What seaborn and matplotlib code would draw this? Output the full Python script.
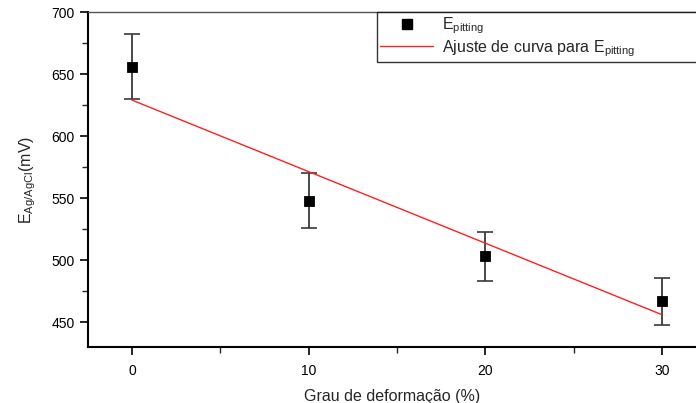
import matplotlib
matplotlib.use("Agg")
import matplotlib.pyplot as plt
import seaborn as sns
import pandas as pd
from matplotlib.ticker import MultipleLocator
from matplotlib.lines import Line2D

# Data
deformacao = [0, 10, 20, 30]
e_pitting = [656, 548, 503, 467]
e_err = [26, 22, 20, 19]
fit_x = [0, 30]
fit_y = [629, 456]

sns.set_theme(style="white")
plt.rcParams['font.family'] = ['Liberation Sans', 'DejaVu Sans']
plt.rcParams['mathtext.default'] = 'regular'

df = pd.DataFrame({"x": deformacao, "y": e_pitting, "err": e_err})
df_fit = pd.DataFrame({"x": fit_x, "y": fit_y})

fig = plt.figure(figsize=(6.96, 4.03), dpi=100)
W, H = 696, 403
left, right, top, bottom = 88, 696, 12, 347
ax = fig.add_axes([left / W, (H - bottom) / H, (right - left) / W, (bottom - top) / H])

ax.errorbar(df["x"], df["y"], yerr=df["err"], fmt="none", ecolor="#3a3a3a",
            elinewidth=1.3, capsize=6, capthick=1.2, zorder=2)
sns.lineplot(data=df_fit, x="x", y="y", ax=ax, color="#ff2020", linewidth=1.0, zorder=3)
sns.scatterplot(data=df, x="x", y="y", ax=ax, marker="s", s=55, color="black",
                edgecolor="black", zorder=4)

px_per_unit = (662 - 132) / 30.0
ax.set_xlim((left - 132) / px_per_unit, (right - 132) / px_per_unit)
ax.set_ylim(430, 700)
ax.xaxis.set_major_locator(MultipleLocator(10))
ax.xaxis.set_minor_locator(MultipleLocator(5))
ax.yaxis.set_major_locator(MultipleLocator(50))
ax.yaxis.set_minor_locator(MultipleLocator(25))
ax.set_yticks([450, 500, 550, 600, 650, 700])
ax.tick_params(axis="both", which="major", direction="out", length=6, width=1.2,
               labelsize=10, colors="black", bottom=True, left=True)
ax.tick_params(axis="both", which="minor", direction="out", length=4, width=1.0,
               bottom=True, left=True)
ax.tick_params(axis="x", pad=6)

for s in ["left", "bottom"]:
    ax.spines[s].set_linewidth(1.5)
    ax.spines[s].set_color("black")
ax.spines["top"].set_linewidth(1.0)
ax.spines["top"].set_color("#555555")
ax.spines["right"].set_visible(False)

ax.set_xlabel("Grau de deformação (%)", fontsize=11.5, labelpad=8)
ax.set_ylabel("E$_{Ag/AgCl}$(mV)", fontsize=11.5, labelpad=10)

handles = [
    Line2D([], [], marker="s", linestyle="none", color="black", markersize=7),
    Line2D([], [], color="#ff2020", linewidth=1.0),
]
labels = ["E$_{pitting}$", "Ajuste de curva para E$_{pitting}$"]
leg = fig.legend(handles, labels, loc="upper left",
                 bbox_to_anchor=(377 / W, 1 - 12 / H, 0.6, 0), mode="expand",
                 fontsize=11.5, frameon=True, fancybox=False, edgecolor="black",
                 borderpad=0.2, handlelength=3.3, handletextpad=0.6,
                 labelspacing=0.15, borderaxespad=0)
leg.get_frame().set_linewidth(1.0)

fig.savefig("out.png", dpi=100)
